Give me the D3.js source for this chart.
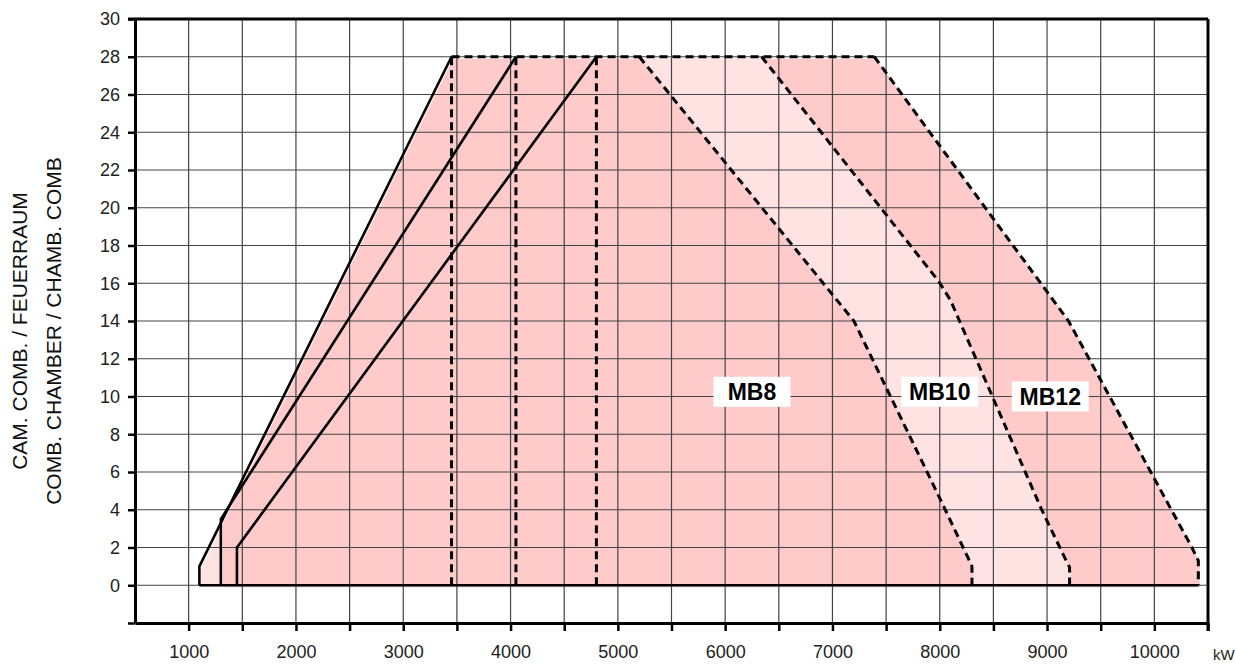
<!DOCTYPE html>
<html>
<head>
<meta charset="utf-8">
<script src="https://cdn.jsdelivr.net/npm/d3@7"></script>
<style>
  body { margin: 0; background: #fff; }
  svg { display: block; }
</style>
</head>
<body>
<div id="chart"></div>
<script>
let width = 1235
let height = 664

// -- data (kW, mbar)
let xTicks = d3.range(1000, 10501, 500)
let xLabels = [1000, 2000, 3000, 4000, 5000, 6000, 7000, 8000, 9000, 10000]
let yTicks = d3.range(-2, 31, 2)
let yLabels = d3.range(0, 31, 2)

let mb8Left = [[1100, 0], [1100, 1], [3450, 28]]
let mb10Left = [[1300, 0], [1300, 3.5], [4050, 28]]
let mb12Left = [[1450, 0], [1450, 2], [4800, 28]]
let dashedX = [3450, 4050, 4800]
let topEdge = [[3450, 28], [7390, 28]]
let bottomEdge = [[1100, 0], [10410, 0]]

let mb8Right = [[5200, 28], [7200, 14], [8010, 4.5], [8260, 1.5], [8300, 1.0], [8300, 0]]
let mb10Right = [[6340, 28], [7990, 16.1], [8100, 15.1], [8950, 4], [9170, 1.4], [9210, 0.95], [9210, 0]]
let mb12Right = [[7390, 28], [9200, 14], [10350, 2], [10410, 1.3], [10410, 0]]

let darkArea = [[1300, 0], [1300, 3.3], [3450, 28]].concat(mb12Right)
let lightBand = mb8Right.concat(mb10Right.slice().reverse())
let lightCorner = [[1100, 0], [1100, 1], [1300, 3.3], [1300, 0]]

let labelNames = ['MB8', 'MB10', 'MB12']
let labelX = [6250, 8000, 9030]
let labelY = [10.25, 10.25, 10.0]

let svg = d3.select('#chart').append('svg')
  .attr('width', width)
  .attr('height', height)

let x = d3.scaleLinear().domain([500, 10500]).range([135, 1208])
let y = d3.scaleLinear().domain([-2, 30]).range([623, 19])

let line = d3.line().x(d => x(d[0])).y(d => y(d[1]))

// -- fills (printed slightly off register)
let fills = svg.append('g').attr('transform', 'translate(1.5,2)')
fills.append('path').attr('d', line(darkArea) + 'Z').attr('fill', '#ffcaca')
fills.append('path').attr('d', line(lightBand) + 'Z').attr('fill', '#ffe3e3')
fills.append('path').attr('d', line(lightCorner) + 'Z').attr('fill', '#ffe3e3')

// -- grid
svg.append('g').selectAll('line')
  .data(xTicks.filter(d => d < 10500))
  .enter().append('line')
  .attr('x1', d => x(d)).attr('x2', d => x(d))
  .attr('y1', y(30)).attr('y2', y(-2))
  .attr('stroke', '#444').attr('stroke-width', 1.2)

svg.append('g').selectAll('line')
  .data(yTicks.filter(d => d > -2 && d < 30))
  .enter().append('line')
  .attr('x1', x(500)).attr('x2', x(10500))
  .attr('y1', d => y(d)).attr('y2', d => y(d))
  .attr('stroke', '#444').attr('stroke-width', 1.2)

// -- axes
let yAxis = d3.axisLeft(y).tickValues(yTicks).tickSize(7).tickSizeOuter(0)
  .tickFormat(d => yLabels.includes(d) ? d : '')
let gy = svg.append('g').attr('transform', 'translate(' + x(500) + ',0)').call(yAxis)

let xAxis = d3.axisBottom(x).tickValues(xTicks).tickSize(8).tickSizeOuter(0)
  .tickFormat(d => xLabels.includes(d) ? d : '')
let gx = svg.append('g').attr('transform', 'translate(0,' + y(-2) + ')').call(xAxis)

svg.selectAll('.domain').attr('stroke', '#000').attr('stroke-width', 3)
svg.selectAll('.tick line').attr('stroke', '#000').attr('stroke-width', 2.5)
svg.selectAll('.tick text')
  .attr('font-family', 'Liberation Sans, Arial, sans-serif')
  .attr('font-size', 18).attr('fill', '#222')
gy.selectAll('.tick text').attr('x', -15)
gx.selectAll('.tick text').attr('y', 22)

// top + right frame
svg.append('line')
  .attr('x1', x(500) - 7).attr('x2', x(10500))
  .attr('y1', y(30)).attr('y2', y(30))
  .attr('stroke', '#000').attr('stroke-width', 3)
svg.append('line')
  .attr('x1', x(10500)).attr('x2', x(10500))
  .attr('y1', y(30)).attr('y2', y(-2) + 8)
  .attr('stroke', '#000').attr('stroke-width', 3)

svg.append('text')
  .attr('x', 1213).attr('y', 660)
  .attr('font-family', 'Liberation Sans, Arial, sans-serif')
  .attr('font-size', 15).attr('fill', '#222')
  .text('kW')

// -- y title
let titles = ['CAM. COMB. / FEUERRAUM', 'COMB. CHAMBER / CHAMB. COMB']
let titleX = [19, 53]
svg.selectAll('.ytitle').data(titles).enter().append('text')
  .attr('class', 'ytitle')
  .attr('transform', (d, i) => 'translate(' + titleX[i] + ',331) rotate(-90)')
  .attr('text-anchor', 'middle')
  .attr('dominant-baseline', 'central')
  .attr('font-family', 'Liberation Sans, Arial, sans-serif')
  .attr('font-size', 21).attr('fill', '#111')
  .text(d => d)

// -- envelope lines
let solid = [mb8Left, mb10Left, mb12Left, bottomEdge]
svg.append('g').selectAll('path').data(solid).enter().append('path')
  .attr('d', d => line(d))
  .attr('fill', 'none').attr('stroke', '#000').attr('stroke-width', 2.6)
  .attr('stroke-linejoin', 'round')

let dashed = [topEdge, mb8Right, mb10Right, mb12Right].concat(dashedX.map(v => [[v, 0], [v, 28]]))
svg.append('g').selectAll('path').data(dashed).enter().append('path')
  .attr('d', d => line(d))
  .attr('fill', 'none').attr('stroke', '#000').attr('stroke-width', 3)
  .attr('stroke-dasharray', '8,5')

// -- labels
let lab = svg.append('g').selectAll('g').data(labelNames).enter().append('g')
  .attr('transform', (d, i) => 'translate(' + x(labelX[i]) + ',' + y(labelY[i]) + ')')
lab.append('rect').attr('fill', '#fff')
lab.append('text')
  .attr('text-anchor', 'middle')
  .attr('dy', '0.36em')
  .attr('font-family', 'Liberation Sans, Arial, sans-serif')
  .attr('font-weight', 'bold')
  .attr('font-size', 23).attr('fill', '#000')
  .text(d => d)
lab.each(function () {
  let g = d3.select(this)
  let bb = g.select('text').node().getBBox()
  let w = Math.max(bb.width + 14, 77)
  g.select('rect').attr('x', -w / 2).attr('y', -15).attr('width', w).attr('height', 30)
})
</script>
</body>
</html>
